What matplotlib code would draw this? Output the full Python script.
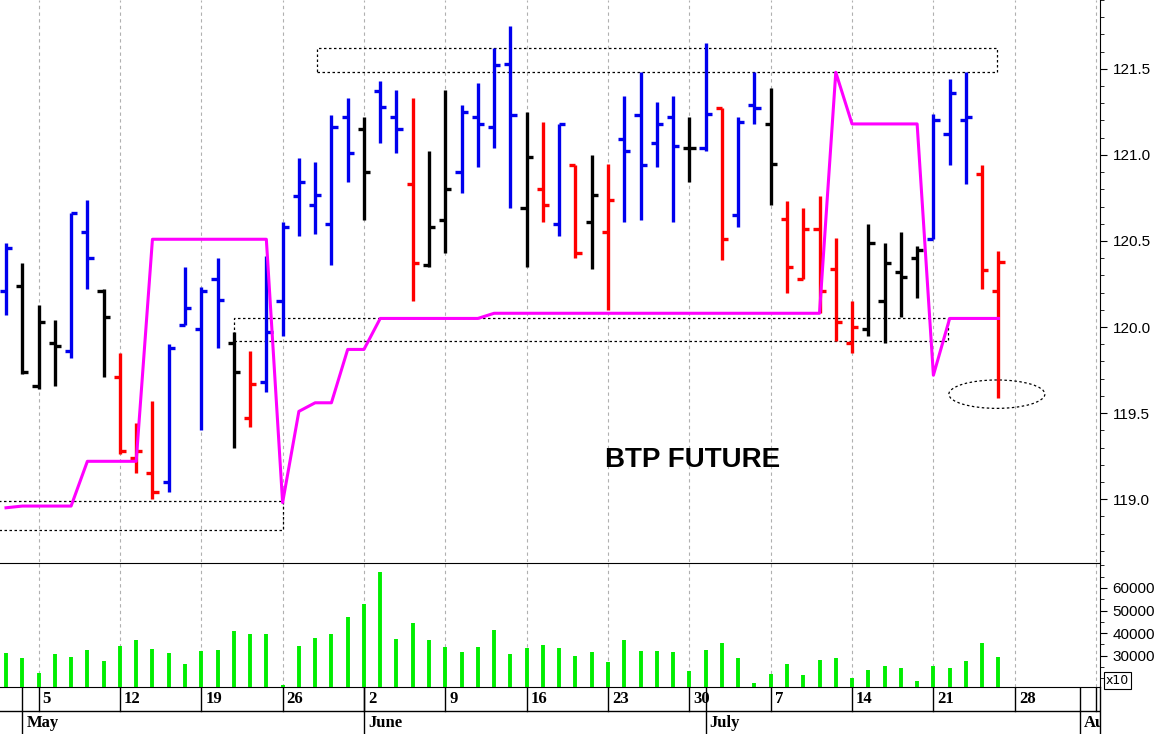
import matplotlib
matplotlib.use("Agg")
import matplotlib.pyplot as plt
from matplotlib.patches import Rectangle, Ellipse

# ---------------- data ----------------
opens  = [120.21,120.24,119.66,119.91,119.86,120.55,120.21,119.71,119.24,119.15,
          119.10,120.01,119.99,120.28,119.91,119.47,119.68,120.15,120.76,120.71,
          120.60,121.22,121.15,121.37,121.22,120.83,120.36,120.62,120.90,121.22,
          121.16,121.53,120.69,120.80,120.60,120.94,120.61,120.55,121.09,121.23,
          121.07,121.22,121.04,121.04,121.27,120.65,121.29,121.18,120.63,120.28,
          120.57,120.34,119.91,119.99,120.15,120.32,120.40,120.51,121.12,121.20,
          120.89,120.21]
highs  = [120.49,120.37,120.13,120.04,120.66,120.74,120.22,119.85,119.44,119.57,
          119.90,120.35,120.23,120.40,119.97,119.86,120.41,120.61,120.98,120.96,
          121.23,121.33,121.22,121.43,121.38,121.33,121.02,121.38,121.29,121.42,
          121.62,121.75,121.25,121.19,121.18,120.94,121.00,120.95,121.34,121.48,
          121.31,121.34,121.22,121.65,121.27,121.22,121.48,121.39,120.73,120.69,
          120.76,120.52,120.15,120.60,120.49,120.55,120.47,121.24,121.44,121.48,
          120.94,120.44]
lows   = [120.07,119.73,119.64,119.66,119.82,120.22,119.71,119.26,119.15,119.00,
          119.04,120.01,119.40,119.88,119.30,119.42,119.62,119.95,120.53,120.54,
          120.36,120.84,120.62,121.07,121.01,120.15,120.35,120.43,120.78,120.93,
          121.04,120.69,120.35,120.61,120.53,120.40,120.34,120.10,120.61,120.62,
          120.93,120.61,120.84,121.02,120.39,120.58,121.18,120.71,120.20,120.28,
          120.08,119.92,119.85,119.95,119.91,120.06,120.17,120.51,120.94,120.83,
          120.22,119.59]
closes = [120.46,119.74,120.03,119.89,120.66,120.40,120.06,119.28,119.28,119.04,
          119.88,120.11,120.21,120.16,119.74,119.67,119.97,120.58,120.84,120.77,
          121.16,121.01,120.90,121.28,121.15,120.37,120.58,120.80,121.25,121.18,
          121.52,121.23,120.99,120.71,121.18,120.43,120.77,120.74,121.02,120.94,
          121.18,121.05,121.04,121.24,120.51,121.19,121.27,120.95,120.35,120.57,
          120.21,120.03,120.00,120.49,120.37,120.29,120.45,121.20,121.36,121.22,
          120.33,120.38]
bar_colors = list("BKKKBBKRRRBBBBKRBBBBBBKBBRKKBBBBKRBRKRBBBBKBRBBKRRRRRKKKKBBBRR")
line_vals = [118.95,118.96,118.96,118.96,118.96,119.22,119.22,119.22,119.22,120.51,
             120.51,120.51,120.51,120.51,120.51,120.51,120.51,118.98,119.51,119.56,
             119.56,119.87,119.87,120.05,120.05,120.05,120.05,120.05,120.05,120.05,
             120.08,120.08,120.08,120.08,120.08,120.08,120.08,120.08,120.08,120.08,
             120.08,120.08,120.08,120.08,120.08,120.08,120.08,120.08,120.08,120.08,
             120.08,121.48,121.18,121.18,121.18,121.18,121.18,119.72,120.05,120.05,
             120.05,120.05]
volumes = [31300,28800,22500,30600,29300,32600,27600,34400,36900,33100,
           31200,26200,31900,32600,40900,39600,39600,17100,34400,37800,
           39600,47200,52800,67200,37600,44700,37100,33700,31500,33700,
           41600,30700,33400,34600,33400,30100,31500,27100,37100,32100,
           32100,31500,23200,32600,35700,28800,18100,21800,26200,21300,
           28100,28800,20100,23800,25700,24400,18700,25700,24400,27600,
           35700,29300]
day_labels = ['5','12','19','26','2','9','16','23','30','7','14','21','28','4']
day_pos = [2,7,12,17,22,27,32,37,42,47,52,57,62,67]
month_labels = ['May','June','July','August']
month_pos = [1,22,43,66]
price_ticks = [119.0,119.5,120.0,120.5,121.0,121.5]
vol_ticks = [30000,40000,50000,60000]

cmap = {'B':'#0000ee','K':'#000000','R':'#ff0000'}
W, H = 1175, 734
XL = (-0.37, 67.24)

fig = plt.figure(figsize=(W/100, H/100), dpi=100)
axp = fig.add_axes([0, 1-562/H, 1100/W, 562/H])
axv = fig.add_axes([0, 1-687/H, 1100/W, 124/H])
axd = fig.add_axes([0, 0, 1100/W, 47/H])

for ax in (axp, axv):
    ax.set_xlim(*XL)
    for p in day_pos:
        ax.axvline(p, color='#b0b0b0', lw=0.8, ls=(0, (3, 3)), zorder=0)
    ax.spines['left'].set_visible(False)
    ax.yaxis.tick_right()
    ax.set_xticks([])
    ax.tick_params(axis='y', which='both', direction='out', length=5, labelsize=11, pad=4)
    ax.tick_params(axis='y', which='minor', length=3)

# price
axp.set_ylim(118.635, 121.894)
n = len(opens)
for i in range(n):
    c = cmap[bar_colors[i]]
    axp.plot([i, i], [lows[i], highs[i]], color=c, lw=2.4, solid_capstyle='butt', zorder=3)
    axp.plot([i-0.38, i], [opens[i], opens[i]], color=c, lw=2.4, solid_capstyle='butt', zorder=3)
    axp.plot([i, i+0.38], [closes[i], closes[i]], color=c, lw=2.4, solid_capstyle='butt', zorder=3)
axp.plot(range(n), line_vals, color='#ff00ff', lw=2.2, zorder=4)
axp.set_yticks(price_ticks)
axp.set_yticklabels([f"{v:.1f}" for v in price_ticks])
axp.set_yticks([119.0 + 0.1*k for k in range(-3, 30)], minor=True)
axp.spines['bottom'].set_visible(False)
axp.spines['top'].set_visible(False)

dash = dict(fill=False, ls=(0, (2, 2)), lw=0.9, ec='black', zorder=2)
axp.add_patch(Rectangle((19.1, 121.48), 41.8, 0.14, **dash))
axp.add_patch(Rectangle((14.0, 119.92), 43.9, 0.13, **dash))
axp.add_patch(Rectangle((-0.5, 118.82), 17.5, 0.17, **dash))
axp.add_patch(Ellipse((60.9, 119.61), 5.9, 0.165, **dash))
axp.text(42.2, 119.23, 'BTP FUTURE', fontsize=20, fontweight='bold',
         family='Liberation Sans', ha='center', va='center')

# volume
axv.set_ylim(16200, 71000)
axv.vlines(range(n), 16200, volumes, color='#00ee00', lw=2.8, zorder=3)
axv.set_yticks(vol_ticks)
axv.set_yticks(list(range(20000, 71000, 5000)), minor=True)
axv.text(1.005, 0.0, 'x10', transform=axv.transAxes, fontsize=9, va='bottom', ha='left',
         bbox=dict(boxstyle='square,pad=0.15', fc='white', ec='black', lw=0.8), clip_on=False)
for lab in axp.get_yticklabels() + axv.get_yticklabels():
    lab.set_family('Liberation Sans')

# date axis
axd.set_xlim(*XL)
axd.set_ylim(0, 1)
axd.axis('off')
axd.axhline(0.489, color='black', lw=1)
for p, lab in zip(day_pos, day_labels):
    axd.plot([p, p], [0.489, 1], color='black', lw=1)
    axd.text(p+0.25, 0.745, lab, fontsize=12, fontweight='bold', family='Liberation Serif',
             ha='left', va='center', clip_on=True)
for p, lab in zip(month_pos, month_labels):
    axd.plot([p, p], [0, 1], color='black', lw=1)
    axd.text(p+0.25, 0.24, lab, fontsize=12, fontweight='bold', family='Liberation Serif',
             ha='left', va='center', clip_on=True)
axd.plot([XL[1], XL[1]], [0, 1], color='black', lw=1, clip_on=False)

fig.savefig('out.png', dpi=100)
